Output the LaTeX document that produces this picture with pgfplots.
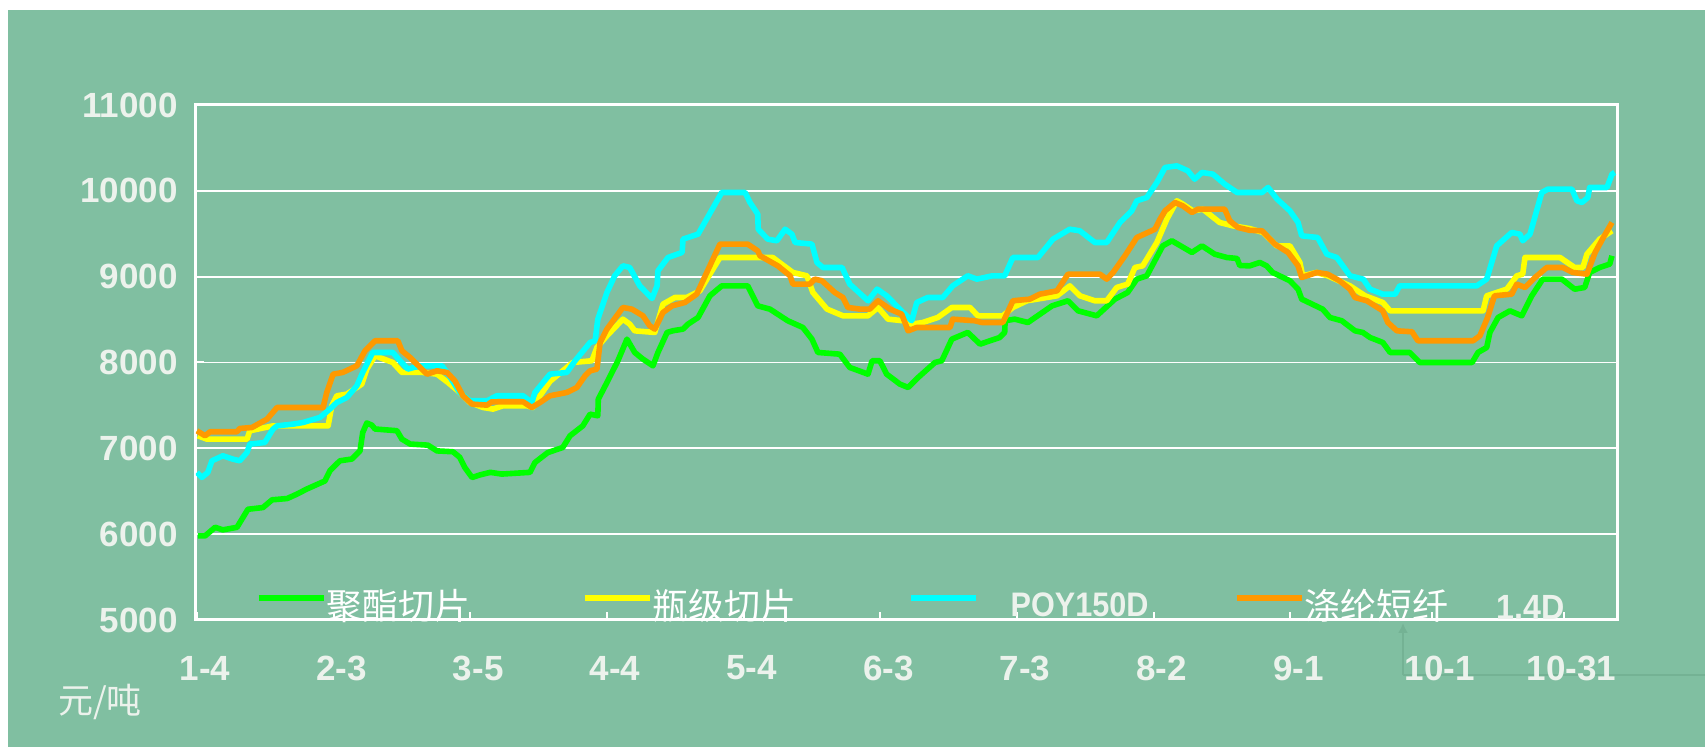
\documentclass[border=0pt]{standalone}
\usepackage{fontspec}
\setmainfont{Liberation Sans}
\newfontfamily\cjk{Noto Sans CJK SC}
\usepackage{graphicx}
\usepackage{pgfplots}
\pgfplotsset{compat=1.18}
\usepackage{pgfplotstable}
\usetikzlibrary{arrows.meta}
\definecolor{bg}{RGB}{128,191,161}
\definecolor{lbl}{RGB}{236,242,236}
\definecolor{faint}{RGB}{116,178,148}
\definecolor{cgreen}{RGB}{0,255,0}
\definecolor{cyellow}{RGB}{255,255,0}
\definecolor{ccyan}{RGB}{0,255,255}
\definecolor{corange}{RGB}{255,153,0}

\pgfplotstableread{
x y
0.2 5980
1.8 5980
4.0 6080
5.7 6050
8.8 6080
11.2 6290
14.5 6310
16.5 6400
19.8 6415
21.9 6465
24.1 6525
28.1 6620
29.2 6740
31.4 6855
34.0 6875
35.8 6970
36.4 7185
37.3 7295
38.4 7270
39.1 7225
43.9 7205
45.0 7107
46.8 7050
50.7 7037
52.7 6970
56.2 6960
57.7 6895
58.8 6777
60.4 6660
62.1 6690
64.4 6720
66.9 6700
73.1 6720
74.2 6835
77.0 6950
80.3 7010
81.9 7146
84.7 7262
86.3 7398
88.0 7379
88.1 7573
90.0 7767
92.4 8020
94.4 8272
96.1 8117
97.9 8039
100.1 7961
101.2 8117
103.2 8350
104.5 8370
106.7 8389
107.8 8447
110.0 8524
112.6 8777
115.2 8893
120.9 8893
123.1 8660
125.8 8621
129.7 8486
133.0 8408
135.0 8272
136.3 8117
141.1 8097
143.3 7942
147.3 7864
148.2 8020
149.9 8020
151.4 7864
154.3 7748
156.1 7709
158.3 7825
162.0 8000
163.5 8020
165.7 8272
169.2 8350
171.9 8214
176.2 8291
177.3 8350
177.4 8486
179.5 8505
182.4 8466
187.7 8660
191.2 8719
193.4 8602
197.5 8544
201.5 8738
204.3 8816
206.3 8971
208.5 9010
212.0 9359
214.0 9418
218.4 9282
220.6 9359
223.4 9262
226.1 9223
228.3 9212
228.9 9130
231.1 9126
233.3 9165
234.8 9126
236.1 9049
239.9 8952
241.7 8854
242.5 8738
247.1 8621
248.7 8524
251.3 8486
254.2 8369
255.9 8350
257.5 8291
260.3 8233
261.9 8117
266.2 8117
268.4 8000
279.9 8000
281.2 8117
283.1 8175
283.8 8350
285.6 8524
288.2 8602
290.8 8544
293.0 8777
295.4 8971
299.6 8971
302.4 8854
304.6 8874
305.7 9049
307.9 9107
310.1 9146
310.6 9243
}\greentab

\pgfplotstableread{
x y
0.2 7146
2.2 7107
11.0 7107
11.6 7204
16.7 7262
28.8 7262
29.6 7496
30.7 7612
32.9 7631
36.2 7748
37.3 7923
39.1 8078
43.0 8000
45.0 7884
49.6 7884
52.7 7864
55.1 7767
57.7 7651
59.9 7534
62.8 7476
65.0 7457
67.2 7496
72.4 7496
73.7 7476
75.3 7612
77.5 7780
80.3 7903
82.5 8000
86.7 8020
87.8 8175
90.0 8311
93.5 8505
95.0 8447
96.1 8369
100.5 8350
102.3 8680
104.9 8757
107.5 8757
110.4 8835
114.8 9223
126.4 9223
130.8 9049
133.9 9010
135.2 8816
138.3 8622
141.8 8544
147.3 8544
149.5 8641
151.7 8505
155.0 8486
156.9 8447
159.3 8466
162.6 8524
165.7 8641
169.7 8641
171.4 8544
176.9 8544
179.1 8641
182.2 8719
188.8 8777
191.6 8893
193.8 8777
197.1 8719
199.7 8719
201.9 8874
204.3 8913
205.9 9107
207.6 9126
210.7 9398
212.9 9670
215.1 9884
216.4 9845
218.6 9767
220.8 9786
224.5 9631
227.4 9592
231.1 9560
234.0 9515
237.0 9359
239.9 9359
242.1 9165
242.7 9010
245.8 9049
248.2 9010
253.1 8893
256.4 8777
260.3 8699
261.9 8602
282.3 8602
283.1 8777
287.5 8854
289.7 9010
291.0 9029
291.5 9223
299.2 9223
302.4 9107
304.2 9107
305.1 9262
307.9 9437
310.6 9534
}\yellowtab

\pgfplotstableread{
x y
0.0 6719
1.1 6661
2.4 6719
3.3 6855
5.7 6913
7.9 6874
9.4 6855
11.0 6952
11.6 7049
14.9 7068
16.7 7224
17.6 7262
21.1 7282
23.3 7301
27.0 7360
29.2 7457
30.7 7534
32.9 7592
35.1 7728
36.4 7884
38.6 8117
43.0 8117
44.6 8020
46.3 7923
48.9 7961
53.8 7961
54.9 7884
57.7 7651
59.9 7554
63.7 7554
65.8 7612
71.6 7612
73.5 7534
74.2 7651
77.5 7864
81.2 7884
83.0 8020
86.3 8233
87.4 8253
88.0 8505
90.0 8816
91.7 9010
93.5 9126
95.0 9107
97.2 8893
99.9 8746
101.0 8893
101.2 9068
103.4 9223
106.5 9282
106.7 9437
110.0 9495
115.2 9981
120.3 9981
121.4 9864
123.1 9728
123.2 9553
125.3 9437
127.3 9418
129.1 9553
130.6 9495
131.3 9398
135.0 9379
136.1 9165
137.4 9107
141.6 9107
143.3 8913
147.3 8719
149.3 8855
151.4 8777
154.3 8621
156.9 8486
158.0 8699
160.4 8757
163.7 8757
165.9 8893
169.2 9010
171.2 8971
174.6 9010
177.3 9010
179.1 9223
184.6 9223
187.9 9437
191.6 9553
193.8 9534
197.1 9398
199.7 9398
202.6 9631
205.2 9767
206.3 9884
208.5 9922
210.7 10097
212.5 10272
215.1 10291
217.5 10233
219.0 10136
220.6 10214
223.0 10194
225.6 10078
228.3 9981
233.8 9981
235.1 10039
237.1 9903
239.9 9767
241.7 9631
242.5 9476
246.0 9456
248.0 9262
250.2 9223
253.1 9010
256.0 8971
257.5 8854
260.3 8796
263.0 8796
264.0 8893
280.9 8893
283.1 8971
285.3 9359
288.6 9515
290.4 9495
291.0 9418
292.6 9495
295.2 9981
296.5 10019
301.8 10019
302.9 9884
304.0 9864
305.3 9922
305.7 10039
309.5 10039
310.6 10194
311.2 10214
}\cyantab

\pgfplotstableread{
x y
0.0 7204
1.8 7146
2.9 7193
8.8 7193
9.4 7231
12.1 7243
15.4 7340
17.6 7476
27.7 7476
28.5 7651
29.9 7864
32.0 7884
35.1 7961
36.9 8136
39.1 8253
44.1 8253
45.0 8136
46.8 8058
50.5 7864
52.7 7903
54.9 7884
56.6 7787
58.4 7612
60.4 7515
63.7 7503
64.7 7542
71.6 7542
73.5 7476
75.3 7534
77.5 7612
81.2 7651
83.4 7709
85.2 7845
86.3 7903
87.8 7923
88.5 8233
90.0 8389
93.5 8641
95.5 8621
97.9 8544
99.4 8427
100.5 8389
102.3 8583
104.3 8660
107.1 8699
109.7 8796
114.8 9379
120.9 9379
123.1 9301
123.6 9243
127.5 9126
130.2 9010
130.8 8913
134.5 8913
135.6 8971
137.2 8952
140.0 8816
141.8 8757
142.9 8641
145.5 8622
147.7 8622
149.5 8719
152.1 8622
154.7 8563
156.1 8369
158.0 8408
165.3 8408
165.9 8505
170.8 8486
172.3 8466
176.9 8466
179.1 8719
182.8 8738
185.0 8796
188.8 8835
191.2 9029
198.2 9029
199.7 8971
201.1 9049
203.7 9243
206.3 9456
210.3 9553
211.4 9670
212.5 9767
214.7 9864
216.4 9825
218.4 9748
219.7 9786
225.6 9786
226.7 9651
228.5 9573
231.1 9540
233.8 9534
236.6 9379
239.5 9282
241.7 9126
242.5 8990
245.8 9049
248.2 9029
250.8 8952
253.1 8854
254.2 8757
256.8 8719
260.3 8602
261.4 8466
263.4 8369
266.7 8358
268.0 8253
280.1 8253
281.6 8311
283.3 8524
284.8 8777
288.6 8796
289.7 8913
291.5 8874
293.7 8990
296.3 9107
299.8 9107
302.0 9049
305.1 9029
306.9 9282
308.7 9456
310.6 9631
}\orangetab

\begin{document}
\begin{tikzpicture}
\useasboundingbox (0,0) rectangle (852.5pt,373.5pt);
\fill[white] (0,0) rectangle (852.5pt,373.5pt);
\fill[bg] (4pt,0) rectangle (852.5pt,368.5pt);
% faint arrow artefact
\draw[faint, line width=1pt] (701.5pt,36pt) -- (852.5pt,36pt);
\draw[faint, line width=1pt, -{Latex[length=5pt,width=5pt]}] (701.5pt,36pt) -- (701.5pt,62pt);
\begin{axis}[
  at={(98pt,63.5pt)}, anchor=south west,
  scale only axis, width=710.5pt, height=257.5pt,
  xmin=-0.2, xmax=311.7, ymin=5000, ymax=11000,
  ytick={5000,6000,...,11000},
  scaled y ticks=false,
  xtick={0,30,60,90,120,150,180,210,240,271,300},
  xticklabels={1-4,2-3,3-5,4-4,5-4,6-3,7-3,8-2,9-1,10-1,10-31},
  /pgf/number format/assume math mode=true,
  /pgf/number format/set thousands separator={},
  yticklabel={\pgfmathprintnumber[fixed,precision=0,1000 sep={}]{\tick}},
  axis line style={white, line width=1.5pt},
  ymajorgrids, grid style={white, line width=0.9pt},
  tick align=inside, major tick length=4pt,
  tick style={white, line width=1pt},
  xtick pos=bottom, ytick pos=left,
  yticklabel style={font=\fontsize{17.5}{17.5}\selectfont\bfseries, text=lbl, anchor=east, inner sep=0pt, xshift=-9pt},
  xticklabel style={font=\fontsize{17.5}{17.5}\selectfont\bfseries, text=lbl, anchor=center, inner sep=0pt, yshift=-24pt, xshift=4pt},
  legend columns=4,
  legend cell align=left,
  legend image code/.code={\draw[#1, line width=3pt] (0pt,4pt) -- (32.5pt,4pt);},
  legend style={at={(rel axis cs:0.042,0)}, anchor=south west, yshift=-1.5pt, draw=none, fill=none,
    inner sep=0pt, outer sep=0pt, row sep=0pt,
    nodes={inner sep=0pt, anchor=west},
    /tikz/every even column/.style={column sep=0pt},
    /tikz/every odd column/.style={column sep=0pt}},
]
\addplot[cgreen, line width=2.8pt, line join=round] table[x=x,y=y] {\greentab};
\addlegendentry{\makebox[127.5pt][l]{\fontsize{18}{18}\selectfont\cjk\color{white}聚酯切片}}
\addplot[cyellow, line width=2.8pt, line join=round] table[x=x,y=y] {\yellowtab};
\addlegendentry{\makebox[127.5pt][l]{\fontsize{18}{18}\selectfont\cjk\color{white}瓶级切片}}
\addplot[ccyan, line width=2.8pt, line join=round] table[x=x,y=y] {\cyantab};
\addlegendentry{\makebox[127.5pt][l]{\hspace{16pt}\fontsize{17}{17}\selectfont\bfseries\color{lbl}\scalebox{0.9}[1]{POY150D}}}
\addplot[corange, line width=2.8pt, line join=round] table[x=x,y=y] {\orangetab};
\addlegendentry{\makebox[127.5pt][l]{{\fontsize{18}{18}\selectfont\cjk\color{white}涤纶短纤}\hspace{24pt}{\fontsize{17.5}{17.5}\selectfont\bfseries\color{lbl}\scalebox{0.92}[1]{1.4D}}}}
\end{axis}
\node[anchor=center, text=lbl, inner sep=0pt] at (50pt,22.5pt) {\fontsize{17.5}{17.5}\selectfont\cjk 元/吨};
\end{tikzpicture}
\end{document}
